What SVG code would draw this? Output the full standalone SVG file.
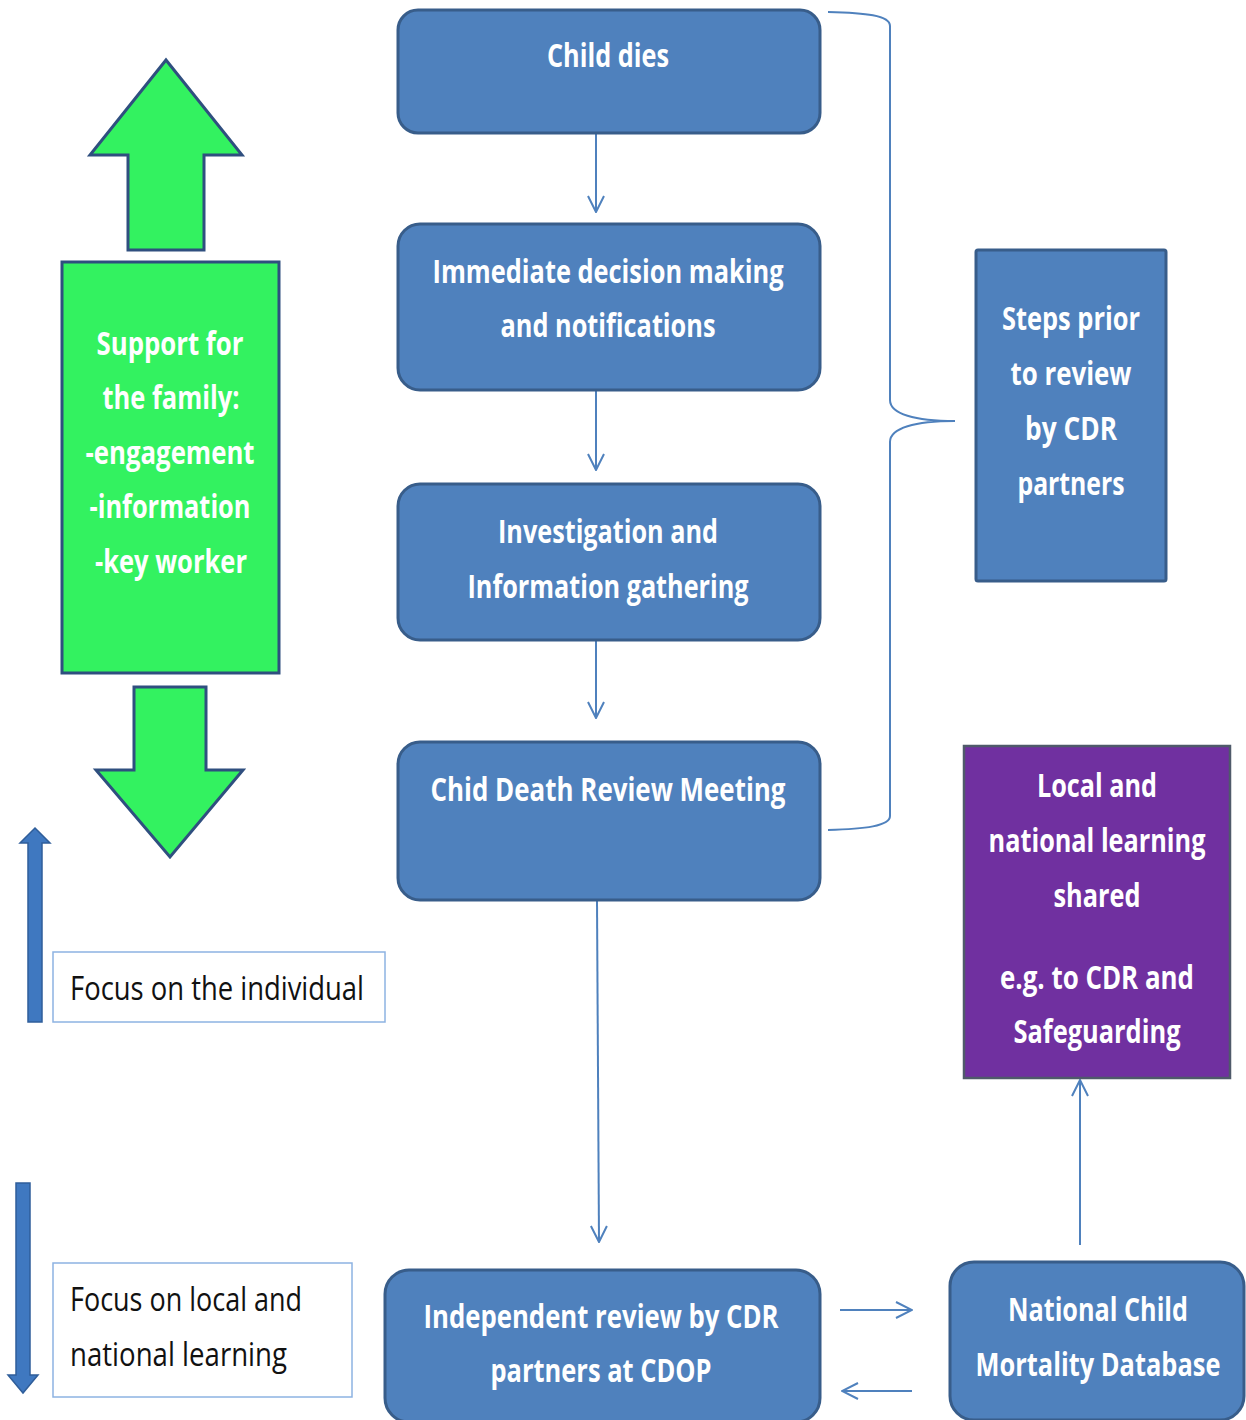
<svg xmlns="http://www.w3.org/2000/svg" width="1246" height="1420" viewBox="0 0 1246 1420">
<defs>
<style>
.box{fill:#4F81BD;stroke:#385D8A;stroke-width:3}
.wt{fill:#ffffff;font-family:"Open Sans","Liberation Sans",sans-serif;font-weight:700;font-size:32px;text-anchor:middle}
.bt{fill:#111111;font-family:"Open Sans","Liberation Sans",sans-serif;font-weight:400;font-size:32px}
.conn{stroke:#4F81BD;stroke-width:2;fill:none}
.focus{fill:#ffffff;stroke:#8DB3E2;stroke-width:1.5}
.green{fill:#33F260;stroke:#2F4F7F;stroke-width:3}
.thin{fill:#3F78C0;stroke:#2F5E9A;stroke-width:1.5}
</style>
<marker id="v" viewBox="0 0 18 18" refX="17" refY="9" markerWidth="18" markerHeight="18" markerUnits="userSpaceOnUse" orient="auto">
<path d="M1,1 L17,9 L1,17" fill="none" stroke="#4F81BD" stroke-width="2"/>
</marker>
</defs>
<rect width="1246" height="1420" fill="#ffffff"/>

<g id="connectors">
<line class="conn" x1="596" y1="134" x2="596" y2="212" marker-end="url(#v)"/>
<line class="conn" x1="596" y1="391" x2="596" y2="470" marker-end="url(#v)"/>
<line class="conn" x1="596" y1="641" x2="596" y2="718" marker-end="url(#v)"/>
<line class="conn" x1="597" y1="901" x2="599" y2="1242" marker-end="url(#v)"/>
<line class="conn" x1="840" y1="1310" x2="912" y2="1310" marker-end="url(#v)"/>
<line class="conn" x1="912" y1="1391" x2="842" y2="1391" marker-end="url(#v)"/>
<line class="conn" x1="1080" y1="1245" x2="1080" y2="1080" marker-end="url(#v)"/>
<path class="conn" d="M828,12 C865,13 890,15 890,26 L890,400 C890,414 915,421 955,421 C915,421 890,428 890,442 L890,816 C890,826 865,829 828,830"/>
</g>

<g id="child-dies">
<rect class="box" x="398" y="10" width="422" height="123" rx="20"/>
<text class="wt" x="608" y="67" textLength="122" lengthAdjust="spacingAndGlyphs">Child dies</text>
</g>
<g id="immediate">
<rect class="box" x="398" y="224" width="422" height="166" rx="22"/>
<text class="wt" x="608" y="283" textLength="351" lengthAdjust="spacingAndGlyphs">Immediate decision making</text>
<text class="wt" x="608" y="337" textLength="215" lengthAdjust="spacingAndGlyphs">and notifications</text>
</g>
<g id="investigation">
<rect class="box" x="398" y="484" width="422" height="156" rx="22"/>
<text class="wt" x="608" y="543" textLength="220" lengthAdjust="spacingAndGlyphs">Investigation and</text>
<text class="wt" x="608" y="598" textLength="281" lengthAdjust="spacingAndGlyphs">Information gathering</text>
</g>
<g id="review-meeting">
<rect class="box" x="398" y="742" width="422" height="158" rx="22"/>
<text class="wt" x="608" y="801" textLength="355" lengthAdjust="spacingAndGlyphs">Chid Death Review Meeting</text>
</g>
<g id="independent-review">
<rect class="box" x="385" y="1270" width="435" height="152" rx="24"/>
<text class="wt" x="601" y="1328" textLength="355" lengthAdjust="spacingAndGlyphs">Independent review by CDR</text>
<text class="wt" x="601" y="1382" textLength="221" lengthAdjust="spacingAndGlyphs">partners at CDOP</text>
</g>
<g id="national-database">
<rect class="box" x="950" y="1262" width="294" height="158" rx="24"/>
<text class="wt" x="1098" y="1321" textLength="180" lengthAdjust="spacingAndGlyphs">National Child</text>
<g transform="translate(1098,1376) scale(0.8,1)">
<text class="wt" x="0" y="0" textLength="306" lengthAdjust="spacingAndGlyphs">Mortality Database</text>
</g>
</g>
<g id="steps-prior">
<rect class="box" x="976" y="250" width="190" height="331" rx="2"/>
<text class="wt" x="1071" y="330" textLength="138" lengthAdjust="spacingAndGlyphs">Steps prior</text>
<text class="wt" x="1071" y="385" textLength="121" lengthAdjust="spacingAndGlyphs">to review</text>
<text class="wt" x="1071" y="440" textLength="92" lengthAdjust="spacingAndGlyphs">by CDR</text>
<text class="wt" x="1071" y="495" textLength="107" lengthAdjust="spacingAndGlyphs">partners</text>
</g>
<g id="learning-shared">
<rect x="964" y="746" width="266" height="332" fill="#7030A0" stroke="#4F5A6A" stroke-width="2.5"/>
<text class="wt" x="1097" y="797" textLength="120" lengthAdjust="spacingAndGlyphs">Local and</text>
<g transform="translate(1097,852) scale(0.8,1)">
<text class="wt" x="0" y="0" textLength="271" lengthAdjust="spacingAndGlyphs">national learning</text>
</g>
<text class="wt" x="1097" y="907" textLength="87" lengthAdjust="spacingAndGlyphs">shared</text>
<text class="wt" x="1097" y="989" textLength="194" lengthAdjust="spacingAndGlyphs">e.g. to CDR and</text>
<text class="wt" x="1097" y="1043" textLength="167" lengthAdjust="spacingAndGlyphs">Safeguarding</text>
</g>
<g id="family-support">
<polygon class="green" points="166,60 242,155 204,155 204,250 128,250 128,155 90,155"/>
<rect class="green" x="62" y="262" width="217" height="411"/>
<polygon class="green" points="134,687 206,687 206,770 243,770 170,857 96,770 134,770"/>
<text class="wt" x="170" y="355" textLength="147" lengthAdjust="spacingAndGlyphs">Support for</text>
<text class="wt" x="171" y="409" textLength="137" lengthAdjust="spacingAndGlyphs">the family:</text>
<text class="wt" x="170" y="464" textLength="169" lengthAdjust="spacingAndGlyphs">-engagement</text>
<text class="wt" x="170" y="518" textLength="161" lengthAdjust="spacingAndGlyphs">-information</text>
<text class="wt" x="171" y="573" textLength="152" lengthAdjust="spacingAndGlyphs">-key worker</text>
</g>
<g id="focus-individual">
<polygon class="thin" points="35,828 50,843 42,843 42,1022 28,1022 28,843 20,843"/>
<rect class="focus" x="53" y="952" width="332" height="70"/>
<text class="bt" x="70" y="1000" textLength="294" lengthAdjust="spacingAndGlyphs">Focus on the individual</text>
</g>
<g id="focus-learning">
<polygon class="thin" points="16,1183 30,1183 30,1375 38,1375 23,1393 8,1375 16,1375"/>
<rect class="focus" x="53" y="1263" width="299" height="134"/>
<text class="bt" x="70" y="1311" textLength="232" lengthAdjust="spacingAndGlyphs">Focus on local and</text>
<text class="bt" x="70" y="1366" textLength="217" lengthAdjust="spacingAndGlyphs">national learning</text>
</g>
</svg>
